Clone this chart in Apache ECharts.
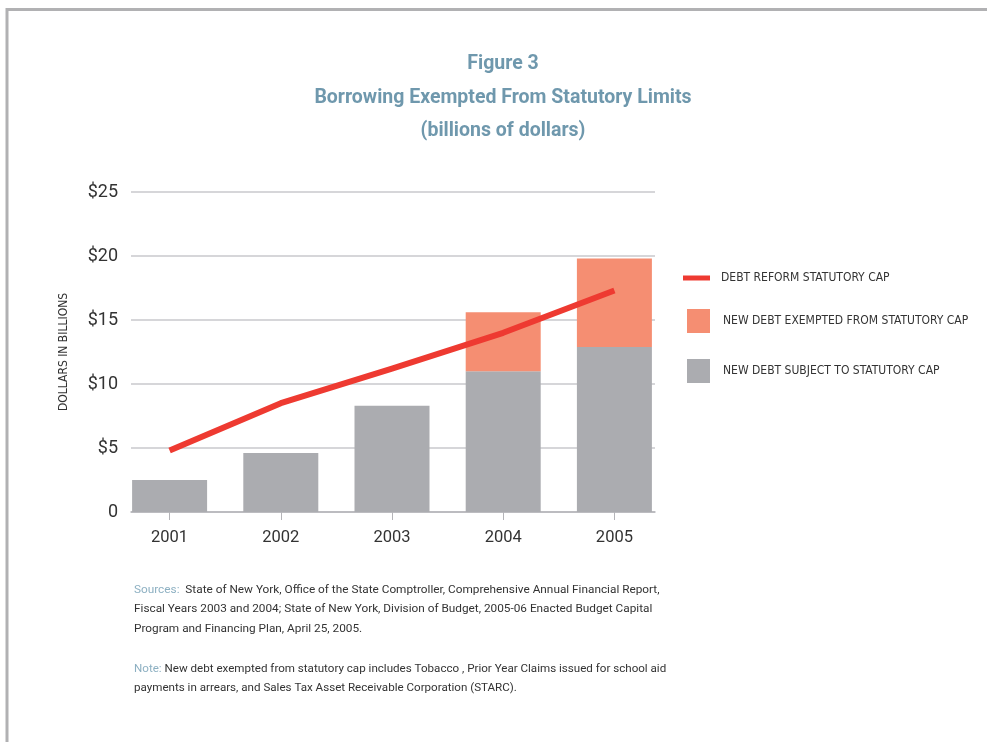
<!DOCTYPE html>
<html>
<head>
<meta charset="utf-8">
<script src="https://cdn.jsdelivr.net/npm/echarts@6/dist/echarts.min.js"></script>
<style>
  html, body { margin: 0; padding: 0; background: #fff; }
  #chart { width: 987px; height: 742px; }
</style>
</head>
<body>
<div id="chart"></div>
<script>
// 数据
const years = ['2001', '2002', '2003', '2004', '2005'];
const subjectToCap = [2.5, 4.6, 8.3, 11.0, 12.9];
const exemptFromCap = [0, 0, 0, 4.6, 6.9];
const reformCap = [4.8, 8.5, 11.2, 14.0, 17.3];
const yTicks = [0, 5, 10, 15, 20, 25];

const FONT = "Roboto, 'Liberation Sans', sans-serif";
const COND_FONT = "'DejaVu Sans'";
const TITLE_BLUE = '#6f98ad';
const NOTE_BLUE = '#8db0c2';
const GRAY_BAR = '#abacb0';
const SALMON = '#f58e72';
const RED = '#ee3a31';

const chart = echarts.init(document.getElementById('chart'));

// 图例文字（压缩字体）
const legendText = {fontFamily: COND_FONT, fontStyle: 'condensed', fontSize: 12, color: '#333'};

const legendBase = {
    orient: 'vertical',
    left: 683,
    padding: 0,
    icon: 'rect',
    selectedMode: false,
};

const option = {
    backgroundColor: '#fff',
    animation: false,
    grid: [
        // 网格线所在区域
        {left: 131, right: 332, top: 192, bottom: 230},
        // 柱子所在区域（类目带宽略大）
        {left: 114, right: 317, top: 192, bottom: 230},
    ],
    xAxis: [
        {
            gridIndex: 0, type: 'value', min: 0, max: 1,
            axisLine: {show: true, lineStyle: {color: '#b4b4b8', width: 1.5}},
            axisTick: {show: false}, axisLabel: {show: false}, splitLine: {show: false},
        },
        {
            gridIndex: 1, type: 'category', data: years,
            axisLine: {show: false},
            axisTick: {show: true, alignWithLabel: true, length: 8, lineStyle: {color: '#b4b4b8'}},
            axisLabel: {margin: 17, fontFamily: FONT, fontSize: 16.5, color: '#333'},
        },
    ],
    yAxis: [
        {
            gridIndex: 0, type: 'value', min: 0, max: 25, interval: 5,
            name: 'DOLLARS IN BILLIONS', nameLocation: 'middle', nameGap: 61, nameRotate: 90,
            nameTextStyle: {fontFamily: COND_FONT, fontStyle: 'condensed', fontSize: 12, color: '#333'},
            axisLine: {show: false}, axisTick: {show: false},
            axisLabel: {
                margin: 13, fontFamily: FONT, fontSize: 18, color: '#333',
                formatter: v => (yTicks.includes(v) ? (v === 0 ? '0' : '$' + v) : ''),
            },
            splitLine: {lineStyle: {color: '#c9c9cd', width: 1.5}},
        },
        {
            gridIndex: 1, type: 'value', min: 0, max: 25, interval: 5,
            axisLine: {show: false}, axisTick: {show: false}, axisLabel: {show: false},
            splitLine: {show: false},
        },
    ],
    legend: [
        Object.assign({}, legendBase, {
            top: 272, itemWidth: 27, itemHeight: 5, data: ['DEBT REFORM STATUTORY CAP'],
            textStyle: Object.assign({}, legendText, {padding: [0, 0, 0, 6]}),
        }),
        Object.assign({}, legendBase, {
            left: 687, top: 309, itemWidth: 23, itemHeight: 24, data: ['NEW DEBT EXEMPTED FROM STATUTORY CAP'],
            textStyle: Object.assign({}, legendText, {padding: [0, 0, 0, 8]}),
        }),
        Object.assign({}, legendBase, {
            left: 687, top: 359, itemWidth: 23, itemHeight: 24, data: ['NEW DEBT SUBJECT TO STATUTORY CAP'],
            textStyle: Object.assign({}, legendText, {padding: [0, 0, 0, 8]}),
        }),
    ],
    series: [
        {
            name: 'NEW DEBT SUBJECT TO STATUTORY CAP', type: 'bar', stack: 'debt',
            xAxisIndex: 1, yAxisIndex: 1, barWidth: 75,
            itemStyle: {color: GRAY_BAR}, data: subjectToCap,
        },
        {
            name: 'NEW DEBT EXEMPTED FROM STATUTORY CAP', type: 'bar', stack: 'debt',
            xAxisIndex: 1, yAxisIndex: 1, barWidth: 75,
            itemStyle: {color: SALMON}, data: exemptFromCap,
        },
        {
            name: 'DEBT REFORM STATUTORY CAP', type: 'line',
            xAxisIndex: 1, yAxisIndex: 1, symbol: 'none', z: 5,
            itemStyle: {color: RED},
            lineStyle: {color: RED, width: 6, cap: 'butt', join: 'round'},
            data: reformCap,
        },
    ],
    graphic: [
        // 外框
        {
            type: 'rect', silent: true,
            shape: {x: 7, y: 9.5, width: 1100, height: 900},
            style: {fill: 'none', stroke: '#b1b1b3', lineWidth: 3},
        },
        {
            type: 'text', x: 503, y: 54,
            style: {text: 'Figure 3', font: 'bold 19.5px ' + FONT, fill: TITLE_BLUE, textAlign: 'center'},
        },
        {
            type: 'text', x: 503, y: 88,
            style: {text: 'Borrowing Exempted From Statutory Limits', font: 'bold 19.5px ' + FONT, fill: TITLE_BLUE, textAlign: 'center'},
        },
        {
            type: 'text', x: 503, y: 121,
            style: {text: '(billions of dollars)', font: 'bold 19.5px ' + FONT, fill: TITLE_BLUE, textAlign: 'center'},
        },
        // 资料来源与注释
        {
            type: 'text', x: 134, y: 580,
            style: {
                text: '{b|Sources:}  State of New York, Office of the State Comptroller, Comprehensive Annual Financial Report,\n'
                    + 'Fiscal Years 2003 and 2004; State of New York, Division of Budget, 2005-06 Enacted Budget Capital\n'
                    + 'Program and Financing Plan, April 25, 2005.',
                font: '11.8px ' + FONT, fill: '#333', lineHeight: 19.5,
                rich: {b: {fill: NOTE_BLUE, font: '11.8px ' + FONT}},
            },
        },
        {
            type: 'text', x: 134, y: 659,
            style: {
                text: '{b|Note:} New debt exempted from statutory cap includes Tobacco , Prior Year Claims issued for school aid\n'
                    + 'payments in arrears, and Sales Tax Asset Receivable Corporation (STARC).',
                font: '11.6px ' + FONT, fill: '#333', lineHeight: 19.5,
                rich: {b: {fill: NOTE_BLUE, font: '11.6px ' + FONT}},
            },
        },
    ],
};

chart.setOption(option);
</script>
</body>
</html>
